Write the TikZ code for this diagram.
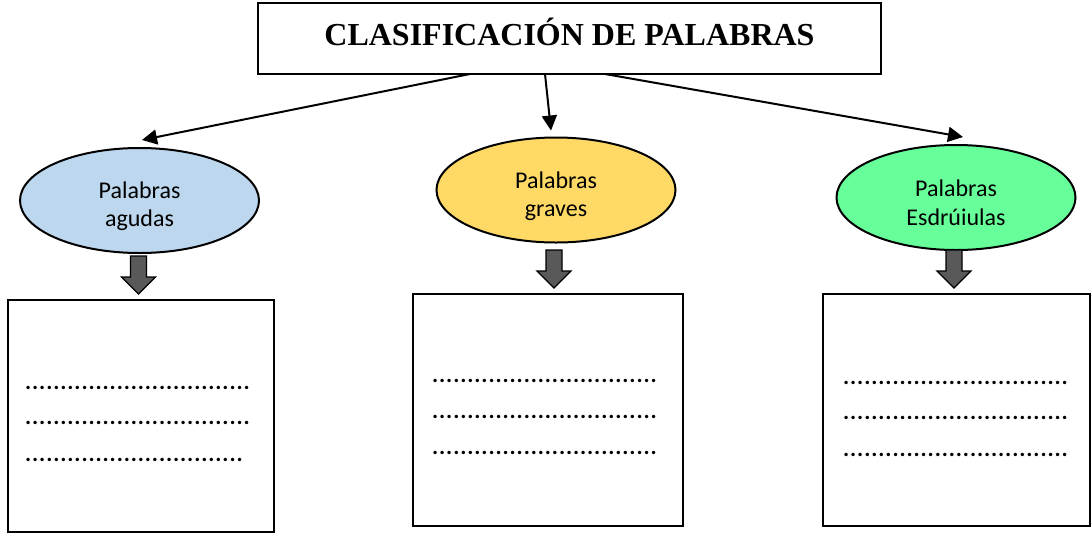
\documentclass[tikz,border=0pt]{standalone}
\usepackage{fontspec}
\setmainfont{Carlito}
\newfontfamily\titlefont{Liberation Serif}
\usetikzlibrary{arrows.meta,shapes.geometric}
\definecolor{agudacol}{HTML}{BDD7EE}
\definecolor{gravecol}{HTML}{FFD966}
\definecolor{esdrcol}{HTML}{66FF99}
\definecolor{arrowgray}{HTML}{595959}
\newcommand{\puntosrow}[1]{\hbox to #1{\leaders\hbox to 7.05pt{\hss.\hss}\hfill}}
\tikzset{
  titlebox/.style={draw, line width=2.4pt, inner sep=0pt, minimum width=623pt,
    text height=42pt, text depth=29pt, font=\titlefont\bfseries\fontsize{32}{36}\selectfont},
  ell/.style={draw, ellipse, line width=2pt, inner sep=0pt, minimum width=239pt, minimum height=105pt},
  lbl/.style={align=center, inner sep=0pt, font=\fontsize{24}{28.5}\selectfont},
  ansbox/.style={draw, line width=2.4pt},
  dotsrow/.style={anchor=base west, inner sep=0pt, font=\bfseries\fontsize{23}{26}\selectfont},
  conn/.style={line width=2pt, -{Triangle[length=15pt,width=15pt]}},
  blockarrow/.pic={\filldraw[fill=arrowgray, line width=1.3pt, line join=miter]
     (-8,0) -- (8,0) -- (8,21) -- (17,21) -- (0,38) -- (-17,21) -- (-8,21) -- cycle;}
}
\begin{document}
\begin{tikzpicture}[x=1pt,y=-1pt]
\useasboundingbox[fill=white] (0,0) rectangle (1092,536);
% title
\node[titlebox] (title) at (569.5,38.5) {CLASIFICACIÓN DE PALABRAS};
% ellipses
\node[ell, fill=agudacol] (e1) at (139.5,200.5) {};
\node[ell, fill=gravecol] (e2) at (556,190) {};
\node[ell, fill=esdrcol] (e3) at (956,197.5) {};
\node[lbl] (t1) at (139.5,206) {Palabras\\agudas};
\node[lbl] (t2) at (556,196) {Palabras\\graves};
\node[lbl] (t3) at (956,203) {Palabras\\Esdrúiulas};
% connectors
\coordinate (s1) at (470,74);
\coordinate (s2) at (545,74);
\coordinate (s3) at (605,74);
\draw[conn] (s1) -- ([shift={(2.5,-7)}]e1.north);
\draw[conn] (s2) -- ([shift={(-5,-6)}]e2.north);
\draw[conn] (s3) -- ([shift={(7,-7)}]e3.north);
% block arrows
\pic at (138.5,256) {blockarrow};
\pic at (554,250) {blockarrow};
\pic at (954,250) {blockarrow};
% answer boxes
\draw[ansbox] (8,300) rectangle (274,532);
\draw[ansbox] (413,294) rectangle (683,526);
\draw[ansbox] (823,294) rectangle (1090,526);
% dotted rows
\node[dotsrow] (d11) at (24.5,389) {\puntosrow{225.6pt}};
\node[dotsrow] (d12) at (24.5,424) {\puntosrow{225.6pt}};
\node[dotsrow] (d13) at (24.5,461) {\puntosrow{218.55pt}};
\node[dotsrow] (d21) at (431.5,382) {\puntosrow{225.6pt}};
\node[dotsrow] (d22) at (431.5,418) {\puntosrow{225.6pt}};
\node[dotsrow] (d23) at (431.5,454) {\puntosrow{225.6pt}};
\node[dotsrow] (d31) at (842.5,384) {\puntosrow{225.6pt}};
\node[dotsrow] (d32) at (842.5,419) {\puntosrow{225.6pt}};
\node[dotsrow] (d33) at (842.5,456) {\puntosrow{225.6pt}};
\end{tikzpicture}
\end{document}
